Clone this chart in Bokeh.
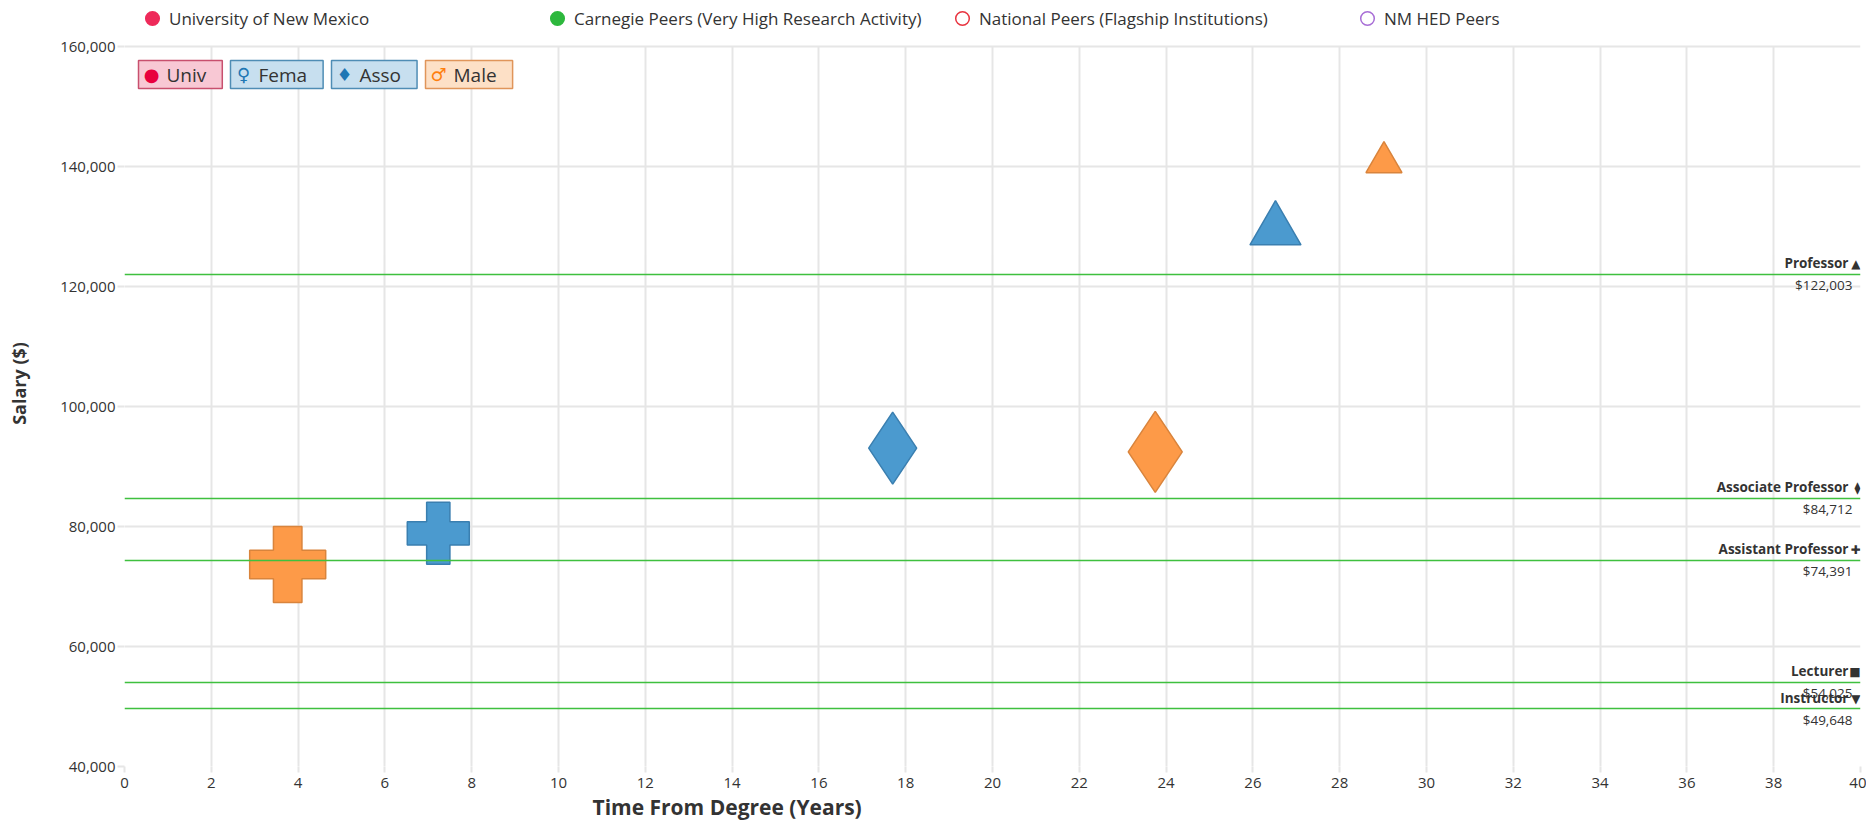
from bokeh.plotting import figure
from bokeh.models import (Range1d, Label, LabelSet, Legend, LegendItem, Title,
                          NumeralTickFormatter, FixedTicker, ColumnDataSource)
from bokeh.core.properties import value
from bokeh.embed import file_html
from bokeh.resources import INLINE

# ---------------- data ----------------
ranks = ["Professor", "Associate Professor", "Assistant Professor", "Lecturer", "Instructor"]
rank_symbols = ["▲", "⧫", "✚", "■", "▼"]
benchmark_salary = [122003, 84712, 74391, 54025, 49648]

point_ranks = ["Assistant Professor", "Associate Professor", "Professor"]
point_markers = ["plus", "diamond", "triangle"]
female_years = [7.23, 17.70, 26.52]
female_salary = [78870, 93050, 129400]
female_size = [62, 72, 51]
male_years = [3.76, 23.75, 29.02]
male_salary = [73670, 92450, 140700]
male_size = [76, 81, 36]

# peer series: listed in the legend, no points shown in this view
series_names = ["University of New Mexico",
                "Carnegie Peers (Very High Research Activity)",
                "National Peers (Flagship Institutions)",
                "NM HED Peers"]
series_years = [float("nan")] * 4
series_salary = [float("nan")] * 4
series_colors = ["#ee2a5a", "#2db83d", "#e8333f", "#a86ed6"]
series_filled = [True, True, False, False]

chip_labels = ["Univ", "Fema", "Asso", "Male"]
chip_symbols = ["●", "♀", "♦", "♂"]

x_ticks = list(range(0, 41, 2))
y_ticks = list(range(40000, 160001, 20000))
x_max = 40
y_min, y_max = 40000, 160000

# ---------------- layout (pixels) ----------------
W, H = 1866, 823
top_band = 46          # legend band above the 160,000 line
bottom_border = 57
plot_h = H - top_band - bottom_border
y_top = y_max + top_band * (y_max - y_min) / plot_h   # frame extends over the legend band

p = figure(width=W, height=H,
           x_range=Range1d(0, x_max), y_range=Range1d(y_min, y_top),
           output_backend="svg", toolbar_location=None,
           min_border_left=124, min_border_right=6,
           min_border_top=0, min_border_bottom=bottom_border)
p.outline_line_color = None
p.background_fill_color = "white"

p.xaxis.ticker = FixedTicker(ticks=x_ticks)
p.yaxis.ticker = FixedTicker(ticks=y_ticks)
p.yaxis.bounds = (y_min, y_max)
p.yaxis.formatter = NumeralTickFormatter(format="0,0")
p.grid.grid_line_color = "#e6e6e6"
p.grid.grid_line_width = 2
p.xgrid.cross_bounds = (y_min, y_max)
p.axis.axis_line_color = None
p.axis.major_tick_line_color = "#e6e6e6"
p.axis.major_tick_line_width = 2
p.axis.major_tick_in = 0
p.axis.minor_tick_line_color = None
p.axis.major_label_text_font = "Open Sans"
p.axis.major_label_text_font_size = "15px"
p.axis.major_label_text_color = "#333333"
p.yaxis.axis_label = "Salary ($)"
p.yaxis.axis_label_text_font = "Open Sans"
p.yaxis.axis_label_text_font_style = "bold"
p.yaxis.axis_label_text_font_size = "18px"
p.yaxis.axis_label_text_color = "#333333"
p.yaxis.major_tick_out = 7
p.yaxis.major_label_standoff = 2
p.yaxis.axis_label_standoff = 26
p.xaxis.major_tick_out = 6
p.xaxis.major_label_standoff = 5

p.add_layout(Title(text="Time From Degree (Years)", align="left", offset=468,
                   text_font="Open Sans", text_font_style="bold",
                   text_font_size="21px", text_color="#333333", standoff=0),
             "below")

# ---------------- data markers ----------------
fsrc = ColumnDataSource(dict(x=female_years, y=female_salary, size=female_size,
                             marker=point_markers, rank=point_ranks))
msrc = ColumnDataSource(dict(x=male_years, y=male_salary, size=male_size,
                             marker=point_markers, rank=point_ranks))
p.scatter("x", "y", source=fsrc, marker="marker", size="size",
          fill_color="#4b9acf", line_color="#3a7fb0", line_width=1.5)
p.scatter("x", "y", source=msrc, marker="marker", size="size",
          fill_color="#fd9a48", line_color="#d9843c", line_width=1.5)

# ---------------- benchmark lines ----------------
bsrc = ColumnDataSource(dict(
    x=[x_max] * len(ranks), y=benchmark_salary, name=ranks, sym=rank_symbols,
    val=["${:,}".format(v) for v in benchmark_salary]))
p.hspan(y="y", source=bsrc, line_color="#3fc03f", line_width=1.6)
p.add_layout(LabelSet(x="x", y="y", text="name", source=bsrc,
                      x_offset=-12, y_offset=2, text_align="right", text_baseline="bottom",
                      text_font=value("Open Sans"), text_font_style="bold",
                      text_font_size="13.5px", text_color="#333333"))
p.add_layout(LabelSet(x="x", y="y", text="val", source=bsrc,
                      x_offset=-8, y_offset=-2, text_align="right", text_baseline="top",
                      text_font=value("Open Sans"), text_font_size="13.5px",
                      text_color="#333333"))
p.add_layout(LabelSet(x="x", y="y", text="sym", source=bsrc,
                      x_offset=0, y_offset=3, text_align="right", text_baseline="bottom",
                      text_font=value("DejaVu Sans"), text_font_size="12px",
                      text_color="#333333"))

# ---------------- top legend ----------------
items = []
for name, xs, ys, color, filled in zip(series_names, series_years, series_salary,
                                       series_colors, series_filled):
    r = p.scatter(x=[xs], y=[ys], marker="circle", size=14,
                  fill_color=color if filled else None,
                  line_color=color, line_width=1.5)
    items.append(LegendItem(label=name, renderers=[r], index=0))
legend = Legend(items=items, orientation="horizontal",
                location=(11, plot_h + top_band - 37),
                glyph_width=34, glyph_height=38, label_standoff=0, spacing=3,
                label_width=368, padding=0, margin=0,
                border_line_alpha=0, background_fill_alpha=0,
                label_text_font="Open Sans", label_text_font_size="17px",
                label_text_color="#333333")
p.add_layout(legend, "center")

# ---------------- chips ----------------
chip_left = [14, 106, 207, 301]
chip_bg = ["#f8c8d4", "#c7dfef", "#c7dfef", "#fde0c6"]
chip_border = ["#c8506e", "#4f8db5", "#4f8db5", "#e0955a"]
chip_sym_color = ["#e8003d", "#1f77b4", "#1f77b4", "#ff7f0e"]
chip_y = plot_h - 28
for lab, sym, left, bg, bc, sc in zip(chip_labels, chip_symbols, chip_left,
                                      chip_bg, chip_border, chip_sym_color):
    p.add_layout(Label(x=left, y=chip_y, x_units="screen", y_units="screen",
                       text=lab, text_align="left", text_baseline="middle",
                       text_font="Open Sans", text_font_size="19px",
                       text_color="#333333",
                       background_fill_color=bg, background_fill_alpha=1.0,
                       border_line_color=bc, border_line_width=1.5,
                       padding=dict(left=28, right=16, top=1, bottom=1)))
    p.add_layout(Label(x=left + 13, y=chip_y, x_units="screen", y_units="screen",
                       text=sym, text_align="center", text_baseline="middle",
                       text_font="DejaVu Sans", text_font_size="18px",
                       text_color=sc))

open("out.html", "w").write(file_html(p, INLINE))
